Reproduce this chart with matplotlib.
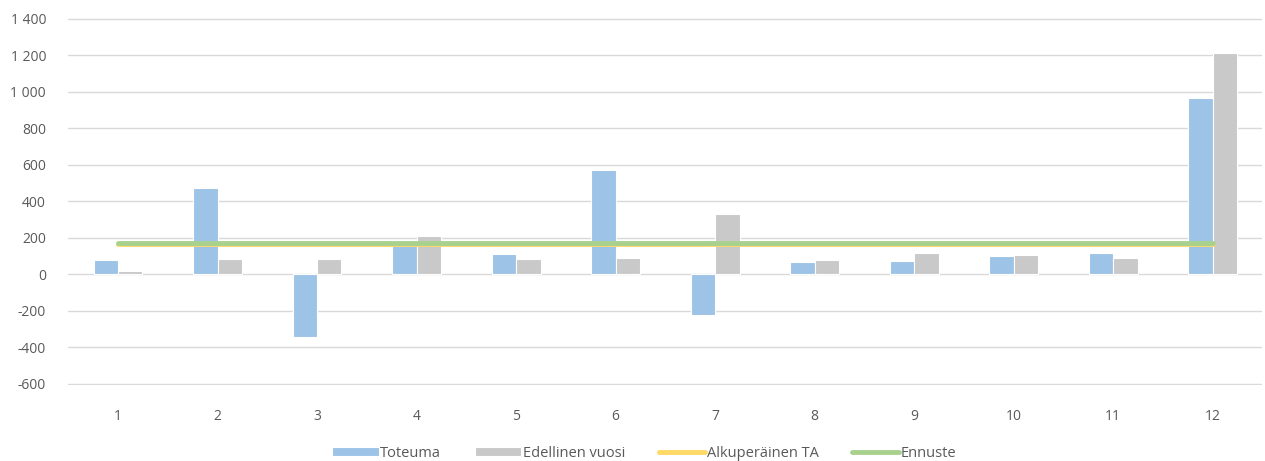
import numpy as np
import matplotlib.pyplot as plt
from matplotlib.ticker import FuncFormatter

plt.rcParams['font.family'] = ['Open Sans', 'DejaVu Sans']

months = [1, 2, 3, 4, 5, 6, 7, 8, 9, 10, 11, 12]
toteuma = [77, 472, -345, 160, 113, 570, -223, 66, 75, 100, 115, 967]
edellinen = [20, 85, 85, 210, 84, 91, 331, 77, 115, 104, 89, 1212]
alkuperainen_ta = [167] * 12
ennuste = [173] * 12

fig = plt.figure(figsize=(12.65, 4.61), dpi=100)
ax = fig.add_axes([0.054, 0.165, 0.944, 0.796])

x = np.array(months)
w = 0.245
b1 = ax.bar(x - w / 2, toteuma, w, color="#9DC3E6", edgecolor="white", linewidth=0.8,
            label="Toteuma", zorder=2)
b2 = ax.bar(x + w / 2, edellinen, w, color="#C9C9C9", edgecolor="white", linewidth=0.8,
            label="Edellinen vuosi", zorder=2)
l1, = ax.plot(x, alkuperainen_ta, color="#FFD966", lw=3.5, solid_capstyle="round",
              label="Alkuperäinen TA", zorder=3)
l2, = ax.plot(x, ennuste, color="#A9D18E", lw=3.5, solid_capstyle="round",
              label="Ennuste", zorder=4)

ax.set_xlim(0.5, 12.5)
ax.set_ylim(-606, 1403)
ax.set_yticks(range(-600, 1401, 200))
ax.set_xticks(months)
ax.yaxis.set_major_formatter(FuncFormatter(lambda v, p: f"{int(v):,}".replace(",", " ")))
ax.grid(axis="y", color="#D9D9D9", lw=1, zorder=0)
for s in ax.spines.values():
    s.set_visible(False)
ax.tick_params(length=0, labelsize=10, colors="#595959")
ax.tick_params(axis="y", pad=16)
ax.tick_params(axis="x", pad=17)

leg = ax.legend([b1, b2, l1, l2], ["Toteuma", "Edellinen vuosi", "Alkuperäinen TA", "Ennuste"],
                loc="upper center", bbox_to_anchor=(0.482, -0.13), ncol=4, frameon=False,
                fontsize=10.5, handlelength=3.2, handletextpad=0.1, columnspacing=2.3,
                handleheight=0.6)
for t in leg.get_texts():
    t.set_color("#595959")

fig.savefig("out.png", dpi=100)
